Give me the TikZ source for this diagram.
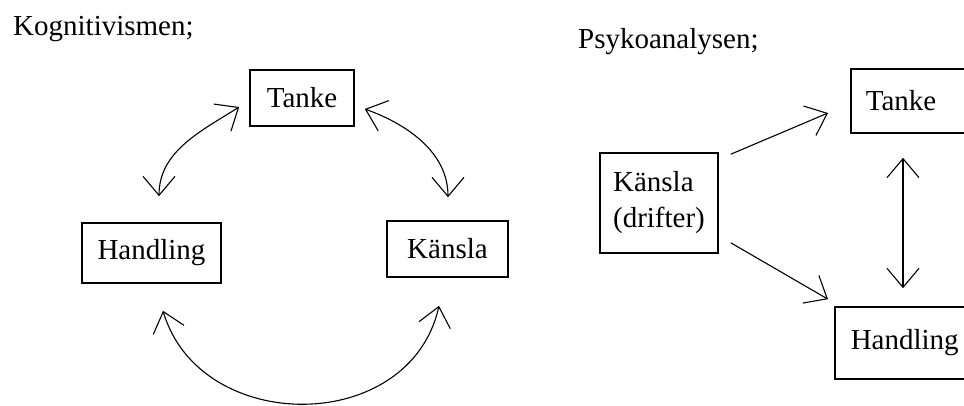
\documentclass[tikz,border=0pt]{standalone}
\usepackage{fontspec}
\setmainfont{Liberation Serif}
\usetikzlibrary{arrows.meta,calc}
\begin{document}
\begin{tikzpicture}[x=1pt,y=-1pt,
  txt/.style={font=\fontsize{29}{36}\selectfont, inner sep=0pt},
  box/.style={draw, line width=1.6pt, font=\fontsize{29}{36}\selectfont, inner sep=0pt},
  >={Straight Barb[length=19pt,width=32pt]},
  arr/.style={line width=1.1pt}
]
\useasboundingbox (0,0) rectangle (964,405);
% titles
\node[txt, anchor=base west] (t1) at (13,35) {Kognitivismen;};
\node[txt, anchor=base west] (t2) at (578,48) {Psykoanalysen;};
% left diagram
\node[box, minimum width=104pt, minimum height=56pt] (tL) at (302,98) {Tanke};
\node[box, minimum width=139pt, minimum height=60pt] (hL) at (151.5,253) {Handling};
\node[box, minimum width=121pt, minimum height=56pt] (kL) at (447.5,249) {Känsla};
\coordinate (p1) at ($(tL.west)+(-10,9)$);
\coordinate (p2) at ($(hL.north)+(7.5,-26)$);
\coordinate (p3) at ($(tL.east)+(10,11)$);
\coordinate (p4) at ($(kL.north)+(0.5,-23)$);
\coordinate (p5) at ($(hL.south)+(11.5,27)$);
\coordinate (p6) at ($(kL.south)+(-8.5,28)$);
\draw[arr,<->] (p1) .. controls +(-38,24) and +(0,-45) .. (p2);
\draw[arr,<->] (p3) .. controls +(42,15) and +(0,-45) .. (p4);
\draw[arr,<->] (p5) .. controls +(37,125) and +(-29,130) .. (p6);
% right diagram
\node[box, minimum width=118pt, minimum height=100pt, align=left] (kd) at (659,203) {Känsla\\(drifter)};
\node[box, anchor=west, inner xsep=15pt, text width=110pt, align=left, minimum height=64pt] (tR) at (850,101) {Tanke};
\node[box, anchor=west, inner xsep=16pt, text width=120pt, align=left, minimum height=72pt] (hR) at (834,343) {Handling};
\coordinate (q1) at ($(kd.north east)+(12,2)$);
\coordinate (q2) at ($(tR.west)+(-22,12)$);
\coordinate (q3) at ($(kd.south east)+(12,-11)$);
\coordinate (q4) at ($(hR.north west)+(-6,-7)$);
\coordinate (q5) at ($(tR.south west)+(53,24)$);
\coordinate (q6) at ($(hR.north west)+(69,-18)$);
\draw[arr,->] (q1) -- (q2);
\draw[arr,->] (q3) -- (q4);
\draw[arr,<->] (q5) -- (q6);
\end{tikzpicture}
\end{document}
